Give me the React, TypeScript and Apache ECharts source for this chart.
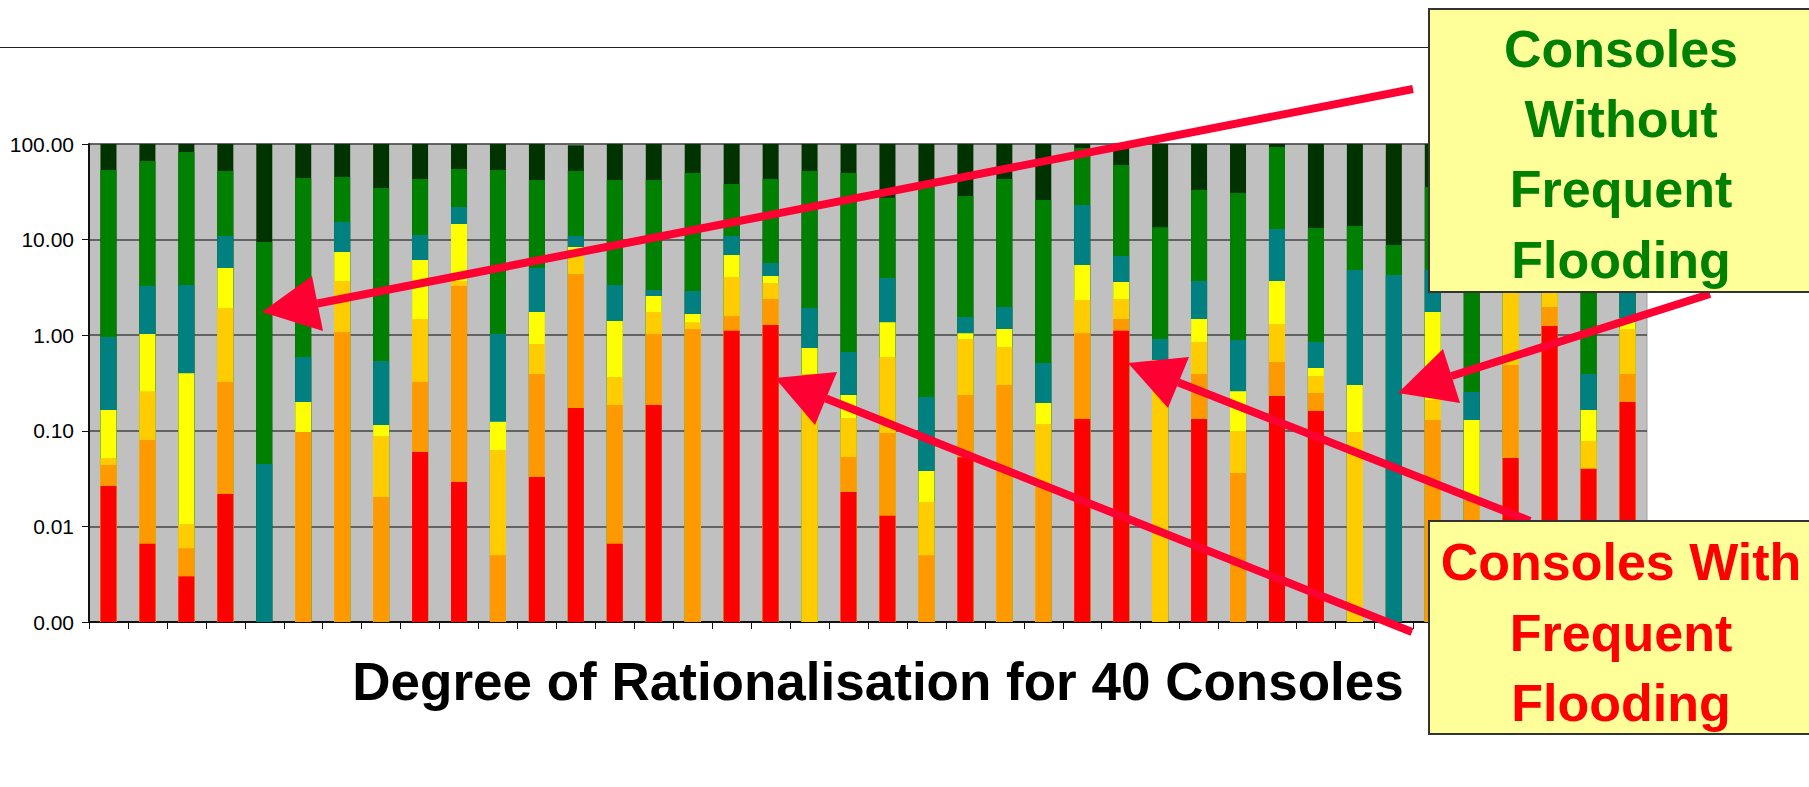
import React, { useEffect, useRef } from 'react';
import * as echarts from 'echarts';

// 40 consoles
const consoles = ['1','2','3','4','5','6','7','8','9','10','11','12','13','14','15','16','17','18','19','20','21','22','23','24','25','26','27','28','29','30','31','32','33','34','35','36','37','38','39','40'];

// Cumulative upper boundary of each coloured band (log scale), null = band absent
const redTop = [0.0265,0.0066,0.0030,0.0218,null,null,null,null,0.060,0.0291, null,0.0329,0.173,0.0066,0.186,null,1.11,1.28,null,0.0229, 0.0129,null,0.053,null,null,0.133,1.11,null,0.133,null, 0.231,0.161,null,null,null,0.004,0.052,1.25,0.040,0.20];
const orangeTop = [0.044,0.080,0.0059,0.324,null,0.097,1.08,0.0203,0.324,3.27, 0.0050,0.393,4.37,0.186,1.03,1.16,1.59,2.39,null,0.0532, 0.0948,0.0050,0.237,0.301,0.026,1.05,1.48,null,0.393,0.0362, 0.525,0.249,null,null,0.13,0.0203,0.488,1.97,null,0.393];
const goldTop = [0.052,0.26,0.0106,1.93,null,null,3.69,0.088,1.48,3.69, 0.063,0.81,7.78,0.366,1.75,1.37,4.06,3.52,0.393,0.136, 0.59,0.018,0.912,0.753,0.118,2.33,2.39,0.34,0.849,0.0995, 1.31,0.374,0.097,null,0.21,null,5.0,4.0,0.078,1.16];
const yellowTop = [0.165,1.03,0.40,5.05,null,0.20,7.41,0.115,6.12,14.6, 0.124,1.75,8.37,1.41,2.57,1.67,6.90,4.16,0.735,0.237, 1.37,0.038,1.05,1.16,0.195,5.42,3.60,0.55,1.48,0.26, 3.69,0.454,0.301,null,1.75,0.13,8.0,6.0,0.165,1.51];
const tealTop = [0.96,3.27,3.35,10.9,0.045,0.59,15.3,0.537,11.2,21.9, 1.03,5.05,10.9,3.35,2.97,2.90,10.9,5.69,1.93,0.667, 3.97,0.226,1.55,1.97,0.512,23.0,6.74,0.912,3.69,0.891, 12.9,0.849,4.81,4.26,4.81,0.255,15.0,12.0,0.393,8.0];
const greenTop = [53.5,66.4,82.5,52.2,9.44,44.1,45.2,34.7,43.0,54.8, 53.5,42.0,52.2,42.0,42.0,49.7,38.2,43.0,52.2,49.7, 27.4,37.0,28.6,43.0,25.9,90.8,60.3,13.5,33.0,30.7, 93.0,13.2,13.9,8.78,35.5,40.0,50.0,45.0,20.0,40.0];
const darkGreenTop = [100,100,100,100,100,100,100,100,100,100, 100,100,97,100,100,100,100,100,100,100, 100,100,100,100,100,100,100,100,100,100, 100,100,100,100,100,100,100,100,100,100];

const bands = [
  { name: 'Dark green', data: darkGreenTop, color: '#003300' },
  { name: 'Green', data: greenTop, color: '#008000' },
  { name: 'Teal', data: tealTop, color: '#008080' },
  { name: 'Yellow', data: yellowTop, color: '#FFFF00' },
  { name: 'Gold', data: goldTop, color: '#FFCC00' },
  { name: 'Orange', data: orangeTop, color: '#FF9900' },
  { name: 'Red', data: redTop, color: '#FF0000' },
];

const titleText = 'Degree of Rationalisation for 40 Consoles';
const withoutLines = ['Consoles', 'Without', 'Frequent', 'Flooding'];
const withLines = ['Consoles With', 'Frequent', 'Flooding'];

const ARROW = '#FF0033';
const FONT = '"Liberation Sans", Arial, Helvetica, sans-serif';

function arrow(tail: number[], tip: number[], w1: number[], w2: number[]) {
  const mid = [(w1[0] + w2[0]) / 2, (w1[1] + w2[1]) / 2];
  return [
    { type: 'line', z: 100, shape: { x1: tail[0], y1: tail[1], x2: mid[0], y2: mid[1] }, style: { stroke: ARROW, lineWidth: 8 } },
    { type: 'polygon', z: 101, shape: { points: [tip, w1, w2] }, style: { fill: ARROW } },
  ];
}

function textEl(text: string, x: number, y: number, size: number, color: string) {
  return {
    type: 'text', z: 130, x, y,
    style: {
      text, fill: color, font: `bold ${size}px ${FONT}`,
      align: 'center', verticalAlign: 'middle', textAlign: 'center', textVerticalAlign: 'middle',
    },
  };
}

export default function App() {
  const ref = useRef<HTMLDivElement>(null);
  useEffect(() => {
    if (!ref.current) return;
    const chart = echarts.init(ref.current, undefined, { renderer: 'svg' });
    const withoutBaselines = [66.7, 137.3, 207.5, 277.7];
    const withBaselines = [580, 651, 721];
    const elements: any[] = [
      { type: 'line', z: 90, shape: { x1: 0, y1: 47.5, x2: 1430, y2: 47.5 }, style: { stroke: '#222', lineWidth: 1 } },
      ...arrow([1413, 89], [262, 312], [312, 276], [323, 331]),
      ...arrow([1710, 294], [1398, 393], [1443, 349], [1460, 403]),
      ...arrow([1530, 521], [1128, 363], [1189, 357], [1168, 408]),
      ...arrow([1412, 632], [775, 378], [837, 372], [815, 425]),
      { type: 'rect', z: 120, shape: { x: 1429, y: 9, width: 384, height: 283 }, style: { fill: '#FFFF99', stroke: '#333', lineWidth: 2 } },
      { type: 'rect', z: 120, shape: { x: 1429, y: 521, width: 384, height: 213 }, style: { fill: '#FFFF99', stroke: '#333', lineWidth: 2 } },
      ...withoutLines.map((t, i) => textEl(t, 1621, withoutBaselines[i] - 0.3465 * 52, 52, '#008000')),
      ...withLines.map((t, i) => textEl(t, 1621, withBaselines[i] - 0.3465 * 52, 52, '#FF0000')),
      textEl(titleText, 878, 700 - 0.3465 * 53, 53, '#000000'),
    ];
    chart.setOption({
      animation: false,
      backgroundColor: '#ffffff',
      grid: {
        left: 89, top: 144, width: 1558, height: 478,
        show: true, backgroundColor: '#C0C0C0', borderColor: '#a0a0a0', borderWidth: 1,
      },
      xAxis: {
        type: 'category',
        data: consoles,
        boundaryGap: true,
        axisLine: { show: true, lineStyle: { color: '#111', width: 2 } },
        axisTick: { show: true, length: 7, interval: 0, alignWithLabel: false, lineStyle: { color: '#111', width: 1 } },
        axisLabel: { show: false },
        splitLine: { show: false },
      },
      yAxis: {
        type: 'log',
        logBase: 10,
        min: 0.001,
        max: 100,
        startValue: 0.001,
        axisLine: { show: true, lineStyle: { color: '#111', width: 2 } },
        axisTick: { show: true, length: 7, lineStyle: { color: '#111', width: 1 } },
        axisLabel: {
          show: true, margin: 15, color: '#000', fontSize: 21, fontFamily: FONT,
          formatter: (v: number) => Number(v).toFixed(2),
        },
        splitLine: { show: true, lineStyle: { color: '#444', width: 1.5 } },
      },
      series: bands.map((b) => ({
        name: b.name,
        type: 'bar',
        data: b.data,
        barWidth: 16,
        barGap: '-100%',
        silent: true,
        itemStyle: { color: b.color },
      })),
      graphic: { elements },
    });
    return () => chart.dispose();
  }, []);
  return <div ref={ref} style={{ position: 'fixed', left: 0, top: 0, width: 1809, height: 787 }} />;
}
